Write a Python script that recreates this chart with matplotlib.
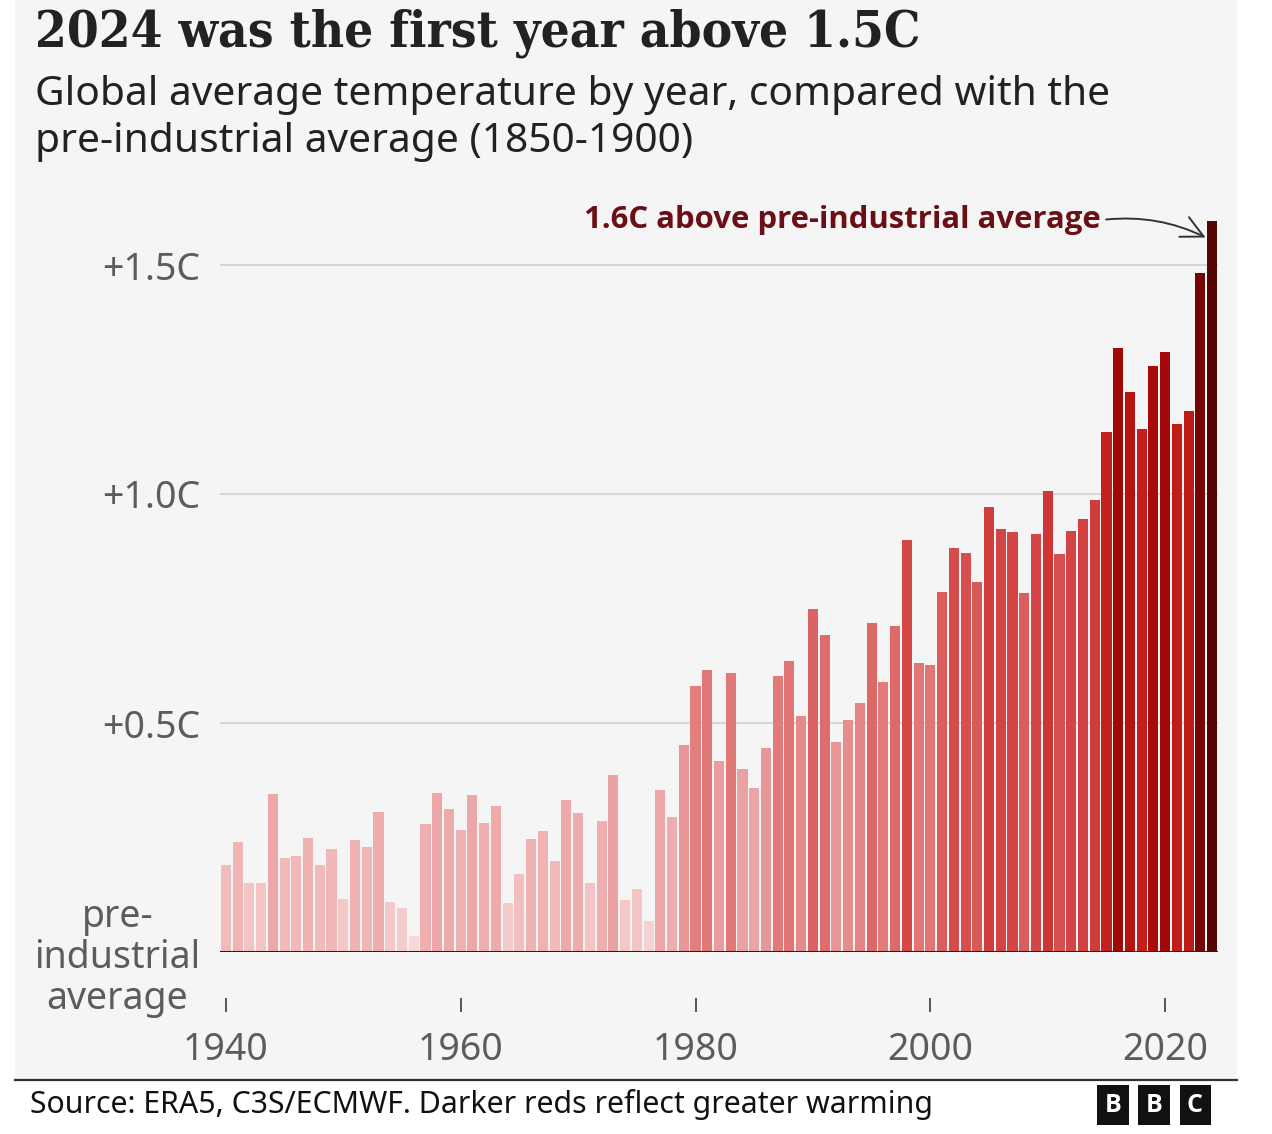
import numpy as np
import matplotlib
matplotlib.use("Agg")
import matplotlib.pyplot as plt
from matplotlib.colors import LinearSegmentedColormap, Normalize
from matplotlib.patches import Rectangle

# ---------------- data ----------------
years = list(range(1940, 2025))
anomaly = [
    0.19, 0.24, 0.15, 0.15, 0.345, 0.205, 0.21, 0.25, 0.19, 0.225,   # 1940s
    0.115, 0.245, 0.23, 0.305, 0.11, 0.095, 0.035, 0.28, 0.348, 0.313,  # 1950s
    0.267, 0.342, 0.282, 0.318, 0.106, 0.17, 0.247, 0.264, 0.199, 0.331,  # 1960s
    0.303, 0.15, 0.286, 0.386, 0.114, 0.137, 0.068, 0.354, 0.295, 0.453,  # 1970s
    0.581, 0.616, 0.416, 0.61, 0.399, 0.357, 0.446, 0.602, 0.635, 0.515,  # 1980s
    0.748, 0.692, 0.459, 0.506, 0.544, 0.718, 0.59, 0.712, 0.90, 0.63,  # 1990s
    0.626, 0.787, 0.883, 0.872, 0.808, 0.972, 0.924, 0.916, 0.784, 0.913,  # 2000s
    1.007, 0.87, 0.919, 0.945, 0.986, 1.136, 1.318, 1.223, 1.143, 1.279,  # 2010s
    1.309, 1.153, 1.181, 1.482, 1.595,  # 2020s
]
ytick_vals = [0, 0.5, 1.0, 1.5]
ytick_labels = ["pre-\nindustrial\naverage", "+0.5C", "+1.0C", "+1.5C"]
xtick_vals = [1940, 1960, 1980, 2000, 2020]

title = "2024 was the first year above 1.5C"
subtitle1 = "Global average temperature by year, compared with the"
subtitle2 = "pre-industrial average (1850-1900)"
annot = "1.6C above pre-industrial average"
source = "Source: ERA5, C3S/ECMWF. Darker reds reflect greater warming"

# ---------------- figure ----------------
W, H = 1272, 1134
fig = plt.figure(figsize=(W / 100, H / 100), dpi=100, facecolor="white")

def fx(px):
    return px / W

def fy(py):
    return 1 - py / H

# light grey panel
fig.patches.append(Rectangle((fx(15), fy(1080)), fx(1237) - fx(15), fy(0) - fy(1080),
                             transform=fig.transFigure, facecolor="#f5f5f5",
                             edgecolor="none", zorder=-5))

ymax = 1.62
ax = fig.add_axes([fx(220), fy(952), fx(1218) - fx(220), ymax * 458 / H])
ax.set_facecolor("none")
ax.set_zorder(2)

cmap = LinearSegmentedColormap.from_list("warm", [
    (0.0 / 1.6, "#f8dcdc"),
    (0.2 / 1.6, "#f2b9b9"),
    (0.4 / 1.6, "#eaa0a2"),
    (0.6 / 1.6, "#e27a7a"),
    (0.8 / 1.6, "#da5a5a"),
    (1.0 / 1.6, "#cf3838"),
    (1.15 / 1.6, "#c41e1a"),
    (1.3 / 1.6, "#a50808"),
    (1.48 / 1.6, "#780505"),
    (1.6 / 1.6, "#560404"),
])
norm = Normalize(0, 1.6)
colors = [cmap(norm(v)) for v in anomaly]

ax.bar(years, anomaly, width=0.86, color=colors, edgecolor="none", zorder=2)
ax.axhline(0, color="#222222", lw=2.2, zorder=3)

ax.set_xlim(1939.5, 2024.5)
ax.set_ylim(0, ymax)

for s in ["top", "right", "left"]:
    ax.spines[s].set_visible(False)
ax.spines["bottom"].set_position(("outward", 33))
ax.spines["bottom"].set_visible(False)

ax.set_yticks(ytick_vals)
ax.set_yticklabels(ytick_labels)
ax.yaxis.grid(True, color="#d0d0d0", lw=1.2, zorder=1)
ax.set_axisbelow(True)
ax.tick_params(axis="y", length=0, pad=14, labelsize=27, labelcolor="#5c5c5c")
for lab in ax.get_yticklabels():
    lab.set_fontfamily("Noto Sans")
    lab.set_multialignment("center")
    lab.set_linespacing(1.1)

ax.set_xticks(xtick_vals)
ax.set_xticklabels([str(x) for x in xtick_vals])
ax.tick_params(axis="x", direction="out", length=10, width=1.4, color="#555555",
               pad=14, labelsize=27, labelcolor="#5c5c5c")
for lab in ax.get_xticklabels():
    lab.set_fontfamily("Noto Sans")

# annotation
ax.annotate(annot, xy=(years[-1] - 0.55, anomaly[-1] - 0.035),
            xytext=(2014.5, 1.598), textcoords="data",
            ha="right", va="center", fontsize=22.4, fontweight="bold",
            color="#6b0f17", fontfamily="Open Sans",
            arrowprops=dict(arrowstyle="->,head_length=0.7,head_width=0.35",
                            color="#333333", lw=1.4, relpos=(1, 0.5),
                            shrinkA=2, shrinkB=0,
                            connectionstyle="arc3,rad=-0.15"),
            zorder=5)

# titles
fig.text(fx(35), fy(47), title, fontsize=36.7, fontweight="bold",
         fontfamily="DejaVu Serif", fontstretch="condensed",
         color="#222222", va="baseline", ha="left")
fig.text(fx(35), fy(105), subtitle1, fontsize=29.3, fontfamily="Noto Sans",
         color="#222222", va="baseline", ha="left")
fig.text(fx(35), fy(152), subtitle2, fontsize=29.3, fontfamily="Noto Sans",
         color="#222222", va="baseline", ha="left")

# footer
fig.add_artist(plt.Line2D([fx(15), fx(1237)], [fy(1080), fy(1080)],
                          transform=fig.transFigure, color="#333333", lw=1.6))
fig.text(fx(30), fy(1104), source, fontsize=21.8, fontfamily="Noto Sans",
         color="#111111", va="center", ha="left")
for letter, cx in zip("BBC", [1113, 1154, 1195]):
    fig.text(fx(cx), fy(1105), letter, fontsize=18, fontweight="bold",
             fontfamily="Open Sans", color="white", ha="center", va="center",
             bbox=dict(boxstyle="square,pad=0.3", facecolor="#111111",
                       edgecolor="none"))

fig.savefig("out.png", dpi=100, facecolor="white")
